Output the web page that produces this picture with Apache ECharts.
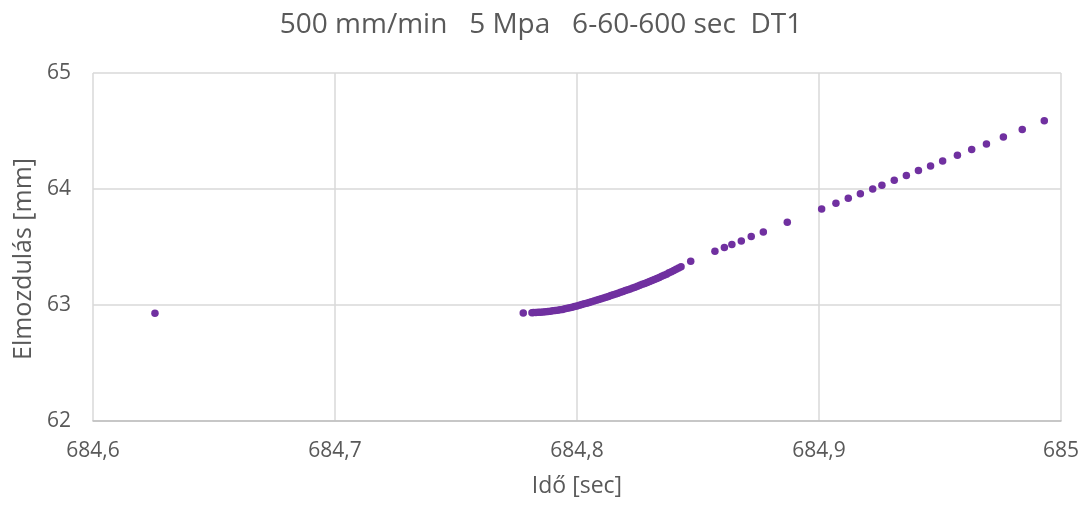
<!DOCTYPE html>
<html>
<head>
<meta charset="utf-8">
<script src="https://cdn.jsdelivr.net/npm/echarts@6/dist/echarts.min.js"></script>
<style>html,body{margin:0;padding:0;background:#fff}#c{width:1082px;height:505px}</style>
</head>
<body>
<div id="c"></div>
<script>
const titleText = '500 mm/min   5 Mpa   6-60-600 sec  DT1';
const xName = 'Idő [sec]';
const yName = 'Elmozdulás [mm]';

const sparseX = [684.6256, 684.7778, 684.7814, 684.8470, 684.8570, 684.8609, 684.8640, 684.8679, 684.8720, 684.8770, 684.8869, 684.9011, 684.9070, 684.9121, 684.9171, 684.9222, 684.9260, 684.9311, 684.9361, 684.9411, 684.9461, 684.9511, 684.9572, 684.9631, 684.9692, 684.9762, 684.9840, 684.9931];
const sparseY = [62.928, 62.930, 62.934, 63.377, 63.463, 63.495, 63.521, 63.552, 63.590, 63.629, 63.713, 63.828, 63.877, 63.920, 63.960, 64.000, 64.032, 64.075, 64.116, 64.159, 64.198, 64.241, 64.291, 64.340, 64.388, 64.448, 64.514, 64.589];

const denseX = [684.782, 684.783, 684.784, 684.785, 684.786, 684.787, 684.788, 684.789, 684.790, 684.791, 684.792, 684.793, 684.794, 684.795, 684.796, 684.797, 684.798, 684.799, 684.800, 684.801, 684.802, 684.803, 684.804, 684.805, 684.806, 684.807, 684.808, 684.809, 684.810, 684.811, 684.812, 684.813, 684.814, 684.815, 684.816, 684.817, 684.818, 684.819, 684.820, 684.821, 684.822, 684.823, 684.824, 684.825, 684.826, 684.827, 684.828, 684.829, 684.830, 684.831, 684.832, 684.833, 684.834, 684.835, 684.836, 684.837, 684.838, 684.839, 684.840, 684.841, 684.842, 684.843];
const denseY = [62.935, 62.936, 62.937, 62.938, 62.940, 62.941, 62.944, 62.947, 62.950, 62.952, 62.955, 62.958, 62.962, 62.967, 62.972, 62.977, 62.981, 62.986, 62.991, 62.997, 63.004, 63.010, 63.016, 63.022, 63.029, 63.035, 63.041, 63.048, 63.054, 63.060, 63.067, 63.074, 63.081, 63.088, 63.095, 63.102, 63.109, 63.116, 63.124, 63.131, 63.139, 63.146, 63.154, 63.162, 63.170, 63.178, 63.186, 63.194, 63.202, 63.211, 63.220, 63.229, 63.238, 63.247, 63.256, 63.266, 63.277, 63.287, 63.298, 63.309, 63.319, 63.330];

const data = [];
sparseX.forEach((x, i) => data.push([x, sparseY[i]]));
denseX.forEach((x, i) => data.push([x, denseY[i]]));

const FONT = 'Open Sans';
const TXT = '#595959';
const chart = echarts.init(document.getElementById('c'), null, {renderer: 'canvas'});
chart.setOption({
  animation: false,
  backgroundColor: '#fff',
  title: {
    text: titleText, left: 'center', top: 6,
    textStyle: {fontFamily: FONT, fontSize: 28, fontWeight: 'normal', color: TXT}
  },
  grid: {left: 93, right: 21, top: 73, bottom: 84, containLabel: false},
  xAxis: {
    type: 'value', min: 684.6, max: 685, interval: 0.1,
    name: xName, nameLocation: 'middle', nameGap: 54,
    nameTextStyle: {fontFamily: FONT, fontSize: 23, color: TXT},
    axisLine: {show: true, lineStyle: {color: '#bfbfbf', width: 1.5}},
    axisTick: {show: false},
    axisLabel: {fontFamily: FONT, fontSize: 21, color: TXT, margin: 20,
      formatter: v => String(parseFloat(v.toFixed(1))).replace('.', ',')},
    splitLine: {show: true, lineStyle: {color: '#d9d9d9', width: 1.5}}
  },
  yAxis: {
    type: 'value', min: 62, max: 65, interval: 1,
    name: yName, nameLocation: 'middle', nameGap: 54,
    nameTextStyle: {fontFamily: FONT, fontSize: 25, color: TXT, padding: [0, 24, 0, 0]},
    axisLine: {show: false},
    axisTick: {show: false},
    axisLabel: {fontFamily: FONT, fontSize: 21, color: TXT, margin: 22},
    splitLine: {show: true, lineStyle: {color: '#d9d9d9', width: 1.5}}
  },
  series: [{
    type: 'scatter', data: data, symbolSize: 7.5,
    itemStyle: {color: '#7030A0', opacity: 1}
  }]
});
</script>
</body>
</html>
